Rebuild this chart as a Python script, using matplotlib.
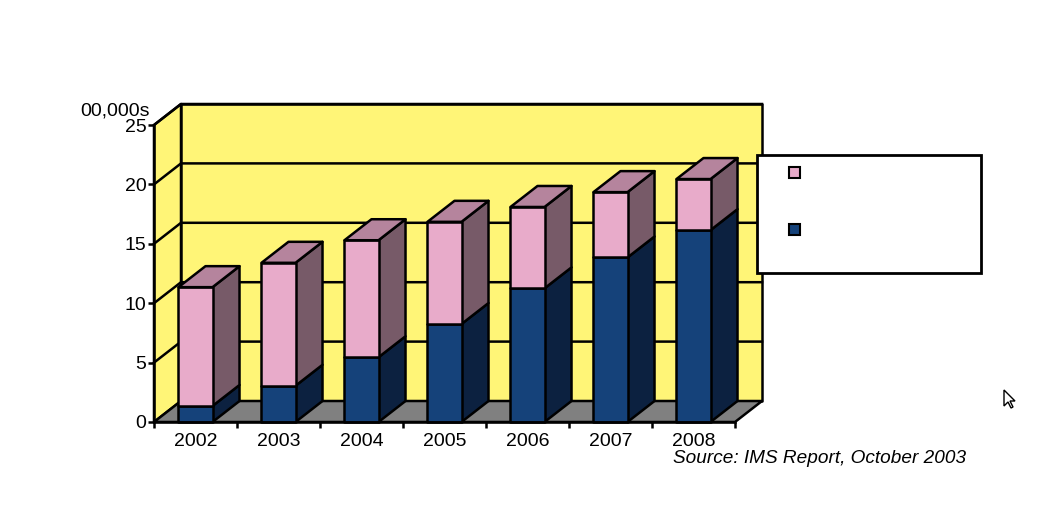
import numpy as np
import matplotlib
matplotlib.use('Agg')
import matplotlib.pyplot as plt
from matplotlib.patches import Polygon, Rectangle

plt.rcParams['font.family'] = ['Liberation Sans', 'DejaVu Sans']

# Chart data (hundreds of thousands)
years = ['2002', '2003', '2004', '2005', '2006', '2007', '2008']
blue_vals = [1.35, 3.05, 5.45, 8.25, 11.25, 13.85, 16.15]
pink_vals = [10.0, 10.35, 9.85, 8.6, 6.85, 5.5, 4.3]
y_ticks = [0, 5, 10, 15, 20, 25]

# Colours
YELLOW = '#FFF577'
FLOOR = '#808080'
PINK = ['#E8ABCA', '#775A68', '#B5849D']   # front, side, top
BLUE = ['#15427A', '#0C2140', '#1E3A66']

W, H = 1041, 521
fig = plt.figure(figsize=(W / 100, H / 100), dpi=100)
ax = fig.add_axes([154 / W, 99 / H, 581 / W, 297 / H])
n = len(years)
ymax = 25
ax.set_xlim(0, n)
ax.set_ylim(0, ymax)

# 3d offset in data units (27 px right, 21 px up)
dx = 27 / (581 / n)
dy = 21 / (297 / ymax)
hw = 0.205
lw = 1.8

def poly(pts, color, z):
    ax.add_patch(Polygon(pts, closed=True, facecolor=color, edgecolor='black',
                         linewidth=lw, zorder=z, clip_on=False, joinstyle='round'))

# walls and floor
poly([(0, 0), (dx, dy), (dx, ymax + dy), (0, ymax)], YELLOW, 1)
poly([(dx, dy), (n + dx, dy), (n + dx, ymax + dy), (dx, ymax + dy)], YELLOW, 1)
poly([(0, 0), (n, 0), (n + dx, dy), (dx, dy)], FLOOR, 2)
for v in y_ticks[1:]:
    ax.plot([0, dx, n + dx], [v, v + dy, v + dy], color='black', lw=lw,
            zorder=3, clip_on=False, solid_joinstyle='round')

# stacked 3d bars
z = 10
for i in range(n):
    c = i + 0.5
    segs = [(0, blue_vals[i], BLUE), (blue_vals[i], blue_vals[i] + pink_vals[i], PINK)]
    for k, (b, t, col) in enumerate(segs):
        poly([(c + hw, b), (c + hw + dx, b + dy), (c + hw + dx, t + dy), (c + hw, t)], col[1], z)
        poly([(c - hw, b), (c + hw, b), (c + hw, t), (c - hw, t)], col[0], z + 1)
        if k == len(segs) - 1:
            poly([(c - hw, t), (c + hw, t), (c + hw + dx, t + dy), (c - hw + dx, t + dy)], col[2], z + 1)
    z += 2

for s in ['top', 'right']:
    ax.spines[s].set_visible(False)
for s in ['left', 'bottom']:
    ax.spines[s].set_linewidth(lw)
    ax.spines[s].set_zorder(50)
ax.set_yticks(y_ticks)
ax.tick_params(axis='y', direction='out', length=4.5, width=lw, labelsize=14, pad=1)
ax.set_xticks(np.arange(n + 1))
ax.set_xticklabels([])
ax.set_xticks(np.arange(n) + 0.5, minor=True)
ax.set_xticklabels(years, minor=True)
ax.tick_params(axis='x', which='major', direction='out', length=4.5, width=lw)
ax.tick_params(axis='x', which='minor', length=0, labelsize=14, pad=8)

fig.text(80 / W, 1 - 116 / H, '00,000s', fontsize=14, ha='left', va='baseline')
fig.text(673 / W, 1 - 463 / H, 'Source: IMS Report, October 2003', fontsize=13.7,
         style='italic', ha='left', va='baseline')

# legend box (labels empty in the original)
fig.patches.append(Rectangle((757 / W, 1 - 273 / H), 224 / W, 118 / H, transform=fig.transFigure,
                             facecolor='white', edgecolor='black', linewidth=2, zorder=60))
for yy, col in [(172, PINK[0]), (229, BLUE[0])]:
    fig.patches.append(Rectangle((789 / W, 1 - (yy + 6) / H), 11 / W, 11 / H, transform=fig.transFigure,
                                 facecolor=col, edgecolor='black', linewidth=1.5, zorder=61))

# mouse pointer artefact
tip = np.array([1004, 390])
arrow = tip + np.array([(0, 0), (0, 16), (4, 12), (7, 18), (9, 17), (6, 11), (11, 11)])
fig.patches.append(Polygon(np.column_stack([arrow[:, 0] / W, 1 - arrow[:, 1] / H]),
                           transform=fig.transFigure, facecolor='white', edgecolor='black',
                           linewidth=1, zorder=61))

fig.savefig('out.png', dpi=100)
